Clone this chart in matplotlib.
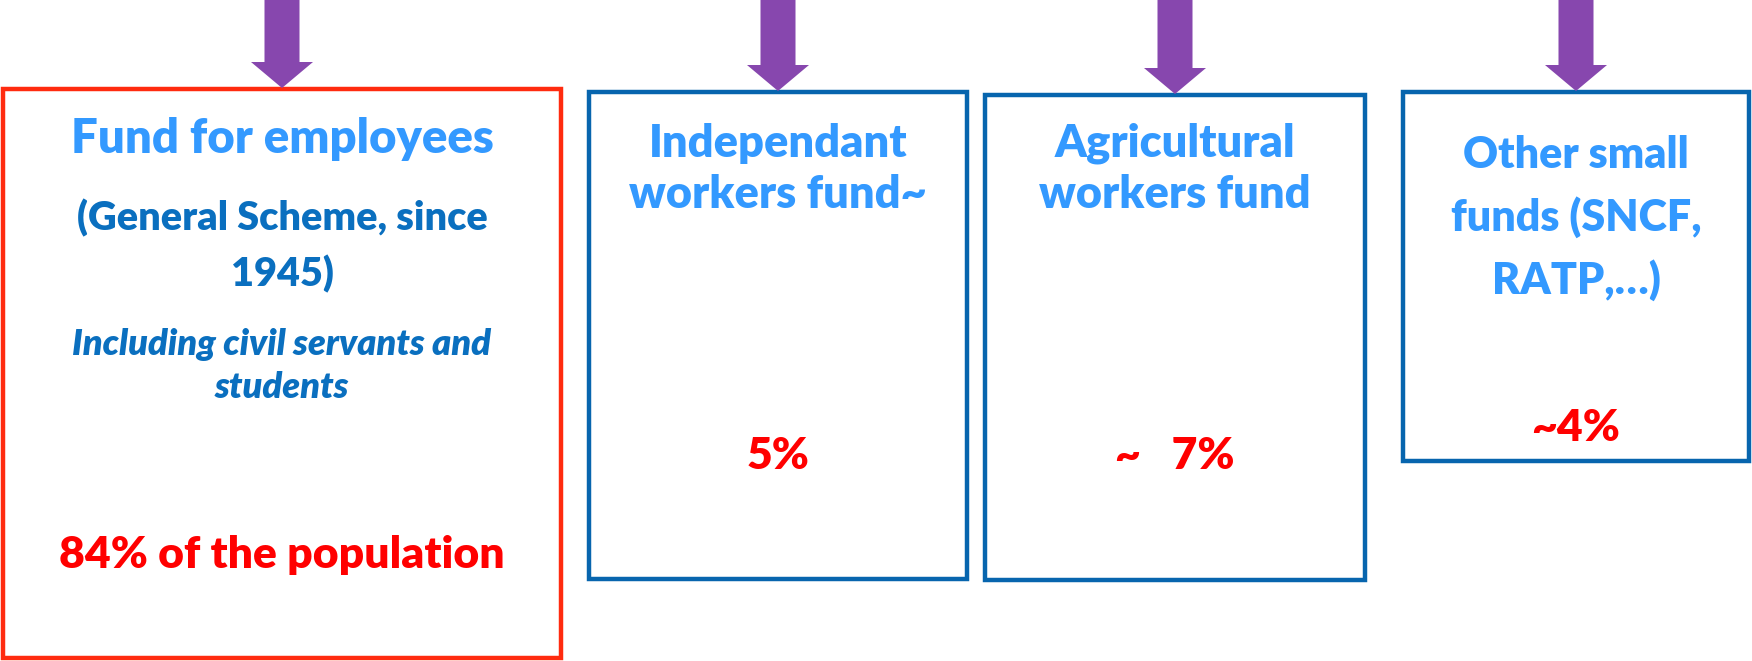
import matplotlib.pyplot as plt
from matplotlib.patches import Rectangle, FancyArrow

# funds and their share of the population
titles = ['Fund for employees', 'Independant\nworkers fund~', 'Agricultural\nworkers fund',
          'Other small\nfunds (SNCF,\nRATP,…)']
subtitles = ['(General Scheme, since\n1945)', '', '', '']
notes = ['Including civil servants and\nstudents', '', '', '']
shares = ['84% of the population', '5%', '~   7%', '~4%']

# layout (pixels, y downwards)
boxes = [(3, 89, 558, 569), (589, 92, 378, 487), (985, 95, 380, 485), (1403, 92, 346, 369)]
edge_colors = ['#FF2B0F', '#0765AE', '#0765AE', '#0765AE']
title_y = [139, 169, 169, 218]
title_size = [34, 32.5, 32.5, 31]
title_spacing = [1.3, 1.3, 1.3, 1.6]
share_y = [555, 456, 456, 428]

fig = plt.figure(figsize=(17.52, 6.61), dpi=100)
ax = fig.add_axes([0, 0, 1, 1])
ax.set_xlim(0, 1752)
ax.set_ylim(661, 0)
ax.axis('off')

for i, (x, y, w, h) in enumerate(boxes):
    cx = x + w / 2
    ax.add_patch(Rectangle((x, y), w, h, fill=False, edgecolor=edge_colors[i], linewidth=3.2))
    # arrow from the top edge down to the box
    ax.add_patch(FancyArrow(cx, 0, 0, y - 1, width=35, head_width=62, head_length=26,
                            length_includes_head=True, color='#8747AE', linewidth=0))
    ax.text(cx, title_y[i], titles[i], ha='center', va='center', ma='center',
            fontsize=title_size[i], fontweight='heavy', color='#3399FF', family='Lato',
            linespacing=title_spacing[i])
    if subtitles[i]:
        ax.text(cx, 246, subtitles[i], ha='center', va='center', ma='center',
                fontsize=28.5, fontweight='heavy', color='#0A6FBF', family='Lato',
                linespacing=1.55)
    if notes[i]:
        ax.text(cx, 366, notes[i], ha='center', va='center', ma='center',
                fontsize=26, fontweight='heavy', style='italic', color='#0A6FBF',
                family='Lato', linespacing=1.4)
    ax.text(cx, share_y[i], shares[i], ha='center', va='center',
            fontsize=32, fontweight='heavy', color='#FF0000', family='Lato')

fig.savefig('out.png', dpi=100)
